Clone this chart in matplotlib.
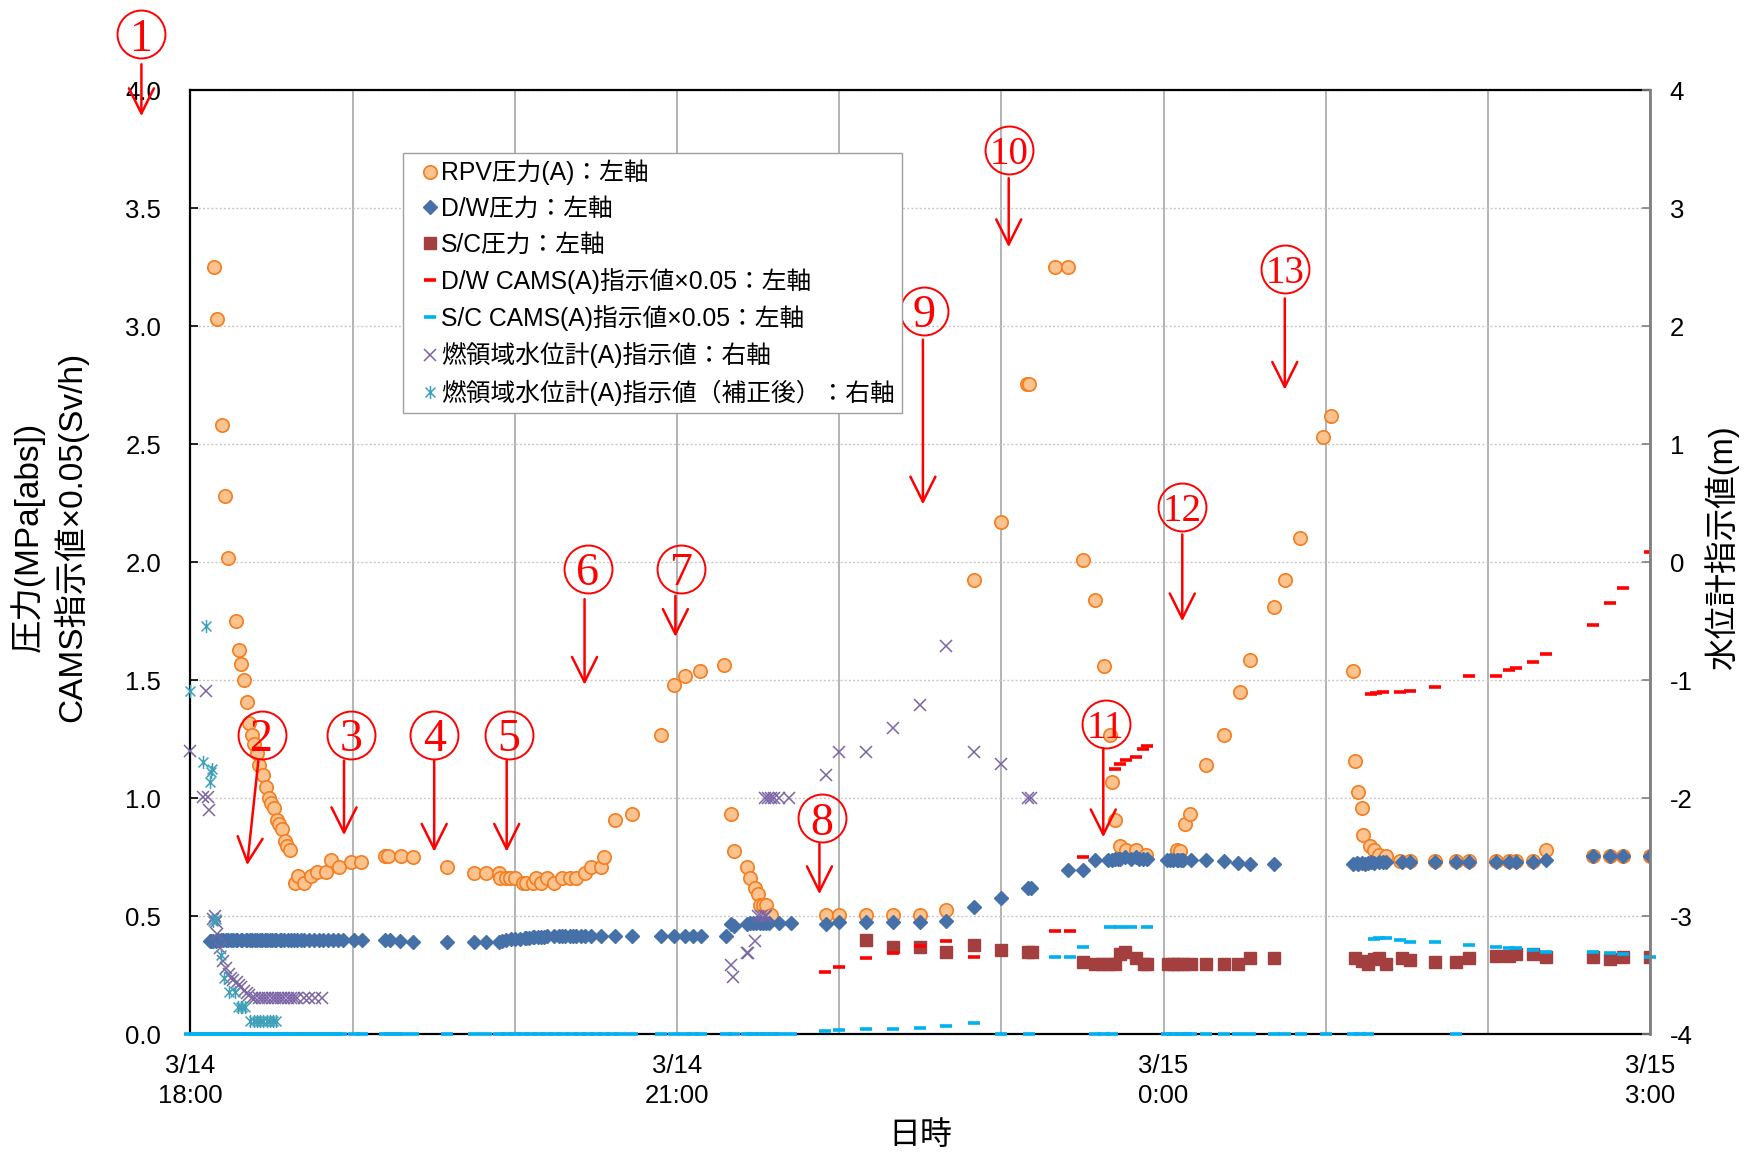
import numpy as np
import matplotlib
matplotlib.use("Agg")
import matplotlib.pyplot as plt
from matplotlib.path import Path

plt.rcParams['font.family'] = ['Liberation Sans', 'Noto Sans CJK JP', 'DejaVu Sans']

# time axis: hours after 3/14 18:00
x_ticklabels = ["3/14\n18:00", "", "", "3/14\n21:00", "", "", "3/15\n0:00", "", "", "3/15\n3:00"]

# RPV pressure (A), left axis [MPa abs]
rpv_t = [0.146, 0.165, 0.196, 0.214, 0.231, 0.28, 0.297, 0.313, 0.33, 0.348, 0.363, 0.379, 0.394, 0.41,
         0.423, 0.45, 0.466, 0.482, 0.497, 0.513, 0.532, 0.548, 0.565, 0.581, 0.598, 0.614, 0.647, 0.664,
         0.699, 0.746, 0.781, 0.833, 0.868, 0.918, 0.99, 1.05, 1.20, 1.22, 1.30, 1.37, 1.58, 1.75, 1.82,
         1.90, 1.91, 1.945, 1.97, 2.0, 2.05, 2.07, 2.11, 2.13, 2.16, 2.20, 2.24, 2.29, 2.34, 2.38, 2.43,
         2.47, 2.53, 2.55, 2.62, 2.72, 2.90, 2.98, 3.05, 3.14, 3.29, 3.33, 3.35, 3.43, 3.45, 3.48, 3.50,
         3.51, 3.53, 3.55, 3.58, 3.92, 4.0, 4.165, 4.33, 4.5, 4.66, 4.83, 5.0, 5.16, 5.17, 5.33, 5.41,
         5.50, 5.58, 5.63, 5.67, 5.68, 5.70, 5.73, 5.77, 5.83, 5.89, 6.08, 6.10, 6.13, 6.16, 6.26, 6.37,
         6.47, 6.53, 6.68, 6.75, 6.84, 6.98, 7.03, 7.17, 7.18, 7.20, 7.22, 7.23, 7.27, 7.30, 7.33, 7.37,
         7.46, 7.52, 7.67, 7.80, 7.88, 8.05, 8.13, 8.17, 8.28, 8.36, 8.65, 8.75, 8.83, 9.0]
rpv_p = [3.25, 3.03, 2.58, 2.28, 2.02, 1.75, 1.63, 1.57, 1.50, 1.41, 1.32, 1.27, 1.23, 1.19,
         1.14, 1.10, 1.05, 1.00, 0.98, 0.96, 0.91, 0.89, 0.87, 0.82, 0.80, 0.78, 0.64, 0.67,
         0.64, 0.67, 0.69, 0.69, 0.74, 0.71, 0.73, 0.73, 0.755, 0.755, 0.755, 0.75, 0.71, 0.685, 0.685,
         0.685, 0.663, 0.663, 0.663, 0.663, 0.64, 0.64, 0.64, 0.663, 0.64, 0.663, 0.64, 0.663, 0.663, 0.663, 0.685,
         0.71, 0.71, 0.753, 0.91, 0.935, 1.27, 1.48, 1.52, 1.54, 1.565, 0.935, 0.777, 0.71, 0.663, 0.62, 0.595,
         0.55, 0.55, 0.55, 0.505, 0.505, 0.505, 0.507, 0.507, 0.507, 0.528, 1.925, 2.17, 2.756, 2.756, 3.25, 3.25,
         2.01, 1.84, 1.56, 1.27, 1.07, 0.91, 0.80, 0.78, 0.78, 0.76, 0.78, 0.777, 0.89, 0.935, 1.14, 1.27,
         1.45, 1.585, 1.81, 1.925, 2.105, 2.53, 2.62, 1.54, 1.16, 1.025, 0.957, 0.845, 0.80, 0.78, 0.76, 0.756,
         0.734, 0.734, 0.734, 0.734, 0.734, 0.734, 0.734, 0.734, 0.734, 0.78, 0.756, 0.756, 0.756, 0.756]

# D/W pressure, left axis
dw_t = [0.12, 0.13, 0.14, 0.16, 0.17, 0.19, 0.20, 0.22, 0.23, 0.25, 0.26, 0.28, 0.29, 0.31, 0.32, 0.34,
        0.35, 0.37, 0.38, 0.40, 0.41, 0.43, 0.44, 0.46, 0.47, 0.49, 0.50, 0.52, 0.53, 0.55, 0.56, 0.58,
        0.60, 0.62, 0.64, 0.66, 0.68, 0.70, 0.73, 0.76, 0.79, 0.82, 0.85, 0.88, 0.91, 0.94,
        1.01, 1.06, 1.20, 1.23, 1.29, 1.37, 1.58, 1.75, 1.82, 1.90, 1.92, 1.945, 1.975, 2.0, 2.03, 2.06,
        2.07, 2.09, 2.11, 2.12, 2.14, 2.16, 2.18, 2.20, 2.24, 2.27, 2.29, 2.31, 2.34, 2.36, 2.38, 2.41,
        2.43, 2.47, 2.53, 2.62, 2.72, 2.90, 2.98, 3.05, 3.10, 3.15, 3.30, 3.33, 3.35, 3.43, 3.45, 3.47,
        3.49, 3.51, 3.53, 3.55, 3.57, 3.63, 3.70, 3.92, 4.0, 4.165, 4.33, 4.5, 4.66, 4.83, 5.0, 5.165,
        5.18, 5.41, 5.50, 5.58, 5.66, 5.68, 5.70, 5.72, 5.73, 5.76, 5.80, 5.83, 5.85, 5.87, 5.90, 6.02,
        6.04, 6.06, 6.08, 6.09, 6.11, 6.12, 6.17, 6.26, 6.37, 6.46, 6.53, 6.68, 7.17, 7.19, 7.20, 7.22,
        7.24, 7.26, 7.28, 7.30, 7.33, 7.35, 7.37, 7.47, 7.52, 7.67, 7.80, 7.88, 8.05, 8.13, 8.17, 8.28,
        8.36, 8.65, 8.75, 8.83, 9.0]
dw_p = [0.395, 0.395, 0.395, 0.395, 0.40, 0.40, 0.40, 0.40, 0.40, 0.40, 0.40, 0.40, 0.40, 0.40, 0.40, 0.40,
        0.40, 0.40, 0.40, 0.40, 0.40, 0.40, 0.40, 0.40, 0.40, 0.40, 0.40, 0.40, 0.40, 0.40, 0.40, 0.40,
        0.40, 0.40, 0.40, 0.40, 0.40, 0.40, 0.40, 0.40, 0.40, 0.40, 0.40, 0.40, 0.40, 0.40,
        0.40, 0.40, 0.40, 0.40, 0.395, 0.393, 0.39, 0.392, 0.392, 0.39, 0.396, 0.40, 0.403, 0.403, 0.405, 0.408,
        0.41, 0.41, 0.413, 0.413, 0.413, 0.414, 0.414, 0.415, 0.415, 0.416, 0.416, 0.416, 0.416, 0.416, 0.416, 0.416,
        0.416, 0.416, 0.418, 0.418, 0.418, 0.416, 0.416, 0.416, 0.416, 0.416, 0.416, 0.467, 0.46, 0.467, 0.47, 0.47,
        0.47, 0.47, 0.47, 0.47, 0.47, 0.474, 0.474, 0.469, 0.476, 0.476, 0.476, 0.476, 0.48, 0.54, 0.578, 0.62,
        0.62, 0.697, 0.697, 0.74, 0.74, 0.74, 0.745, 0.745, 0.745, 0.75, 0.745, 0.75, 0.745, 0.745, 0.745, 0.74,
        0.74, 0.74, 0.74, 0.74, 0.74, 0.74, 0.74, 0.74, 0.734, 0.727, 0.723, 0.72, 0.723, 0.725, 0.723, 0.728,
        0.72, 0.728, 0.73, 0.728, 0.73, 0.73, 0.73, 0.73, 0.73, 0.73, 0.73, 0.73, 0.73, 0.73, 0.73, 0.73,
        0.74, 0.756, 0.756, 0.756, 0.756]

# S/C pressure, left axis
sc_t = [4.165, 4.33, 4.5, 4.66, 4.83, 5.0, 5.165, 5.19, 5.50, 5.58, 5.62, 5.66, 5.70, 5.73, 5.76, 5.83,
        5.88, 5.90, 6.03, 6.06, 6.09, 6.12, 6.17, 6.26, 6.37, 6.46, 6.53, 6.68, 7.18, 7.22, 7.26, 7.30,
        7.33, 7.37, 7.47, 7.52, 7.67, 7.80, 7.88, 8.05, 8.13, 8.17, 8.28, 8.36, 8.65, 8.75, 8.83, 9.0]
sc_p = [0.398, 0.37, 0.37, 0.35, 0.377, 0.356, 0.35, 0.35, 0.307, 0.297, 0.297, 0.297, 0.297, 0.342, 0.348, 0.325,
        0.297, 0.297, 0.297, 0.297, 0.297, 0.297, 0.297, 0.297, 0.297, 0.297, 0.325, 0.325, 0.325, 0.31, 0.297, 0.318,
        0.325, 0.30, 0.325, 0.315, 0.305, 0.305, 0.325, 0.333, 0.333, 0.339, 0.339, 0.328, 0.328, 0.318, 0.328, 0.328]

# D/W CAMS(A) x0.05, left axis
dwcams_t = [3.91, 4.0, 4.165, 4.33, 4.5, 4.66, 4.83, 5.33, 5.42, 5.50, 5.70, 5.73, 5.77, 5.83, 5.87, 5.90,
            7.28, 7.31, 7.35, 7.46, 7.52, 7.67, 7.88, 8.05, 8.13, 8.17, 8.28, 8.36, 8.65, 8.75, 8.83, 9.0]
dwcams_v = [0.266, 0.287, 0.323, 0.345, 0.373, 0.394, 0.326, 0.44, 0.44, 0.75, 1.124, 1.144, 1.164, 1.175, 1.21, 1.223,
            1.443, 1.447, 1.45, 1.45, 1.455, 1.47, 1.52, 1.52, 1.544, 1.554, 1.577, 1.61, 1.733, 1.826, 1.89, 2.045]

# S/C CAMS(A) x0.05, left axis
sccams_t = [0.0, 0.03, 0.06, 0.09, 0.12, 0.15, 0.18, 0.21, 0.24, 0.27, 0.30, 0.33, 0.36, 0.39, 0.42, 0.45,
            0.48, 0.51, 0.54, 0.57, 0.60, 0.63, 0.66, 0.69, 0.72, 0.75, 0.78, 0.81, 0.84, 0.87, 0.90, 0.93,
            1.01, 1.06, 1.20, 1.23, 1.27, 1.30, 1.37, 1.58, 1.75, 1.82, 1.90, 1.95, 2.0, 2.05, 2.10, 2.15,
            2.20, 2.25, 2.30, 2.35, 2.40, 2.45, 2.50, 2.55, 2.60, 2.65, 2.72, 2.90, 2.98, 3.05, 3.10, 3.15,
            3.30, 3.35, 3.43, 3.47, 3.51, 3.55, 3.59, 3.63, 3.70,
            3.91, 4.0, 4.165, 4.33, 4.5, 4.66, 4.83, 5.0, 5.17, 5.33, 5.42, 5.50, 5.58, 5.63, 5.67, 5.68,
            5.73, 5.80, 5.90, 6.02, 6.06, 6.10, 6.14, 6.17, 6.26, 6.37, 6.46, 6.53, 6.68, 6.75, 6.85, 7.0,
            7.17, 7.21, 7.26, 7.30, 7.33, 7.37, 7.46, 7.52, 7.67, 7.80, 7.88, 8.05, 8.13, 8.17, 8.28, 8.36,
            8.65, 8.75, 8.83, 9.0]
sccams_v = [0.0] * 73 + \
           [0.016, 0.018, 0.024, 0.024, 0.028, 0.035, 0.048, 0.0, 0.0, 0.33, 0.33, 0.369, 0.0, 0.0, 0.455, 0.0,
            0.455, 0.453, 0.455, 0.0, 0.0, 0.0, 0.0, 0.0, 0.0, 0.0, 0.0, 0.0, 0.0, 0.0, 0.0, 0.0,
            0.0, 0.0, 0.0, 0.405, 0.407, 0.407, 0.40, 0.392, 0.392, 0.0, 0.377, 0.37, 0.367, 0.367, 0.358, 0.35,
            0.35, 0.343, 0.34, 0.33]

# fuel-range water level (A), right axis [m]
wl_t = [0.0, 0.08, 0.097, 0.11, 0.115, 0.14, 0.15, 0.155, 0.165, 0.18, 0.20, 0.22, 0.235, 0.25, 0.265, 0.285,
        0.30, 0.315, 0.33, 0.346, 0.36, 0.38, 0.40, 0.42, 0.44, 0.46, 0.48, 0.50, 0.52, 0.54, 0.56, 0.58,
        0.60, 0.62, 0.64, 0.66, 0.70, 0.73, 0.77, 0.81,
        3.33, 3.345, 3.43, 3.44, 3.48, 3.50, 3.52, 3.54, 3.55, 3.54, 3.56, 3.58, 3.60, 3.63, 3.69,
        3.92, 4.0, 4.165, 4.33, 4.5, 4.66, 4.83, 5.0, 5.165, 5.18]
wl_m = [-1.60, -1.99, -1.09, -1.99, -2.10, -3.02, -3.0, -3.05, -3.15, -3.27, -3.38, -3.44, -3.49, -3.52, -3.54, -3.56,
        -3.58, -3.60, -3.63, -3.65, -3.67, -3.69, -3.69, -3.69, -3.69, -3.69, -3.69, -3.69, -3.69, -3.69, -3.69, -3.69,
        -3.69, -3.69, -3.69, -3.69, -3.69, -3.69, -3.69, -3.69,
        -3.41, -3.51, -3.31, -3.31, -3.21, -3.0, -3.0, -3.0, -3.0, -2.0, -2.0, -2.0, -2.0, -2.0, -2.0,
        -1.80, -1.61, -1.61, -1.40, -1.21, -0.71, -1.61, -1.71, -2.0, -2.0]

# fuel-range water level (A), corrected, right axis [m]
wlc_t = [0.0, 0.078, 0.097, 0.12, 0.13, 0.136, 0.14, 0.155, 0.19, 0.21, 0.24, 0.275, 0.295, 0.31, 0.32, 0.336,
         0.367, 0.39, 0.41, 0.43, 0.45, 0.47, 0.49, 0.51, 0.53]
wlc_m = [-1.09, -1.69, -0.54, -1.86, -1.78, -1.75, -3.04, -3.02, -3.33, -3.52, -3.64, -3.64, -3.77, -3.77, -3.77, -3.77,
         -3.885, -3.885, -3.885, -3.885, -3.885, -3.885, -3.885, -3.885, -3.885]

# event markers (circled numbers)
event_nums = ['1', '2', '3', '4', '5', '6', '7', '8', '9', '10', '11', '12', '13']
event_pos = [(-0.302, 4.236), (0.439, 1.269), (0.988, 1.269), (1.503, 1.269), (1.963, 1.269),
             (2.45, 1.972), (3.027, 1.972), (3.892, 0.915), (4.523, 3.066), (5.045, 3.745),
             (5.642, 1.316), (6.115, 2.236), (6.747, 3.241)]
event_arrow = [((-0.302, 4.11), (-0.302, 3.89)), ((0.419, 1.16), (0.35, 0.717)),
               ((0.947, 1.16), (0.947, 0.844)), ((1.503, 1.16), (1.503, 0.774)),
               ((1.95, 1.16), (1.95, 0.774)), ((2.43, 1.844), (2.43, 1.481)),
               ((2.99, 1.858), (2.99, 1.684)), ((3.878, 0.807), (3.878, 0.594)),
               ((4.516, 2.943), (4.516, 2.245)), ((5.045, 3.627), (5.045, 3.335)),
               ((5.628, 1.212), (5.628, 0.835)), ((6.115, 2.118), (6.115, 1.75)),
               ((6.747, 3.118), (6.747, 2.731))]

asterisk = Path([(0, -1), (0, 1), (-0.75, -0.75), (0.75, 0.75), (-0.75, 0.75), (0.75, -0.75)],
                [Path.MOVETO, Path.LINETO, Path.MOVETO, Path.LINETO, Path.MOVETO, Path.LINETO])

fig = plt.figure(figsize=(17.46, 11.54), dpi=100)
ax = fig.add_axes([0.10905, 0.10364, 0.8361, 0.8182])
ax2 = ax.twinx()

ax.plot(rpv_t, rpv_p, ls='none', marker='o', ms=9.6, mfc='#FDC38F', mec='#F57C1F', mew=1.2,
        label='RPV圧力(A)：左軸', zorder=3)
ax.plot(dw_t, dw_p, ls='none', marker='D', ms=6.8, mfc='#4671A8', mec='#4671A8',
        label='D/W圧力：左軸', zorder=4)
ax.plot(sc_t, sc_p, ls='none', marker='s', ms=8.8, mfc='#A3403F', mec='#A3403F',
        label='S/C圧力：左軸', zorder=5)
ax.plot(dwcams_t, dwcams_v, ls='none', marker='_', ms=9, mew=2.6, color='#FF0000',
        label='D/W CAMS(A)指示値×0.05：左軸', zorder=6)
ax.plot(sccams_t, sccams_v, ls='none', marker='_', ms=9, mew=2.6, color='#00B0F0',
        label='S/C CAMS(A)指示値×0.05：左軸', zorder=7, clip_on=False)
ax2.plot(wl_t, wl_m, ls='none', marker='x', ms=8.5, mew=1.1, color='#7A64A5',
         label='燃領域水位計(A)指示値：右軸', clip_on=False)
ax2.plot(wlc_t, wlc_m, ls='none', marker=asterisk, ms=9.5, mew=1.1, color='#3FA1B9',
         label='燃領域水位計(A)指示値（補正後）：右軸', clip_on=False)

ax.set_xlim(0, 9)
ax.set_ylim(0, 4)
ax2.set_ylim(-4, 4)

ax.set_xticks(range(10))
ax.set_xticklabels(x_ticklabels, fontsize=18.5)
for lbl in ax.get_xticklabels():
    lbl.set_linespacing(1.3)
ax.set_yticks(np.arange(0, 4.01, 0.5))
ax.set_yticklabels(['%.1f' % v for v in np.arange(0, 4.01, 0.5)], fontsize=18.5)
ax2.set_yticks(range(-4, 5))
ax2.set_yticklabels([str(v) for v in range(-4, 5)], fontsize=18.5)

ax.tick_params(axis='x', length=0, pad=14)
ax.tick_params(axis='y', direction='in', length=6, width=1.2, pad=21)
ax2.tick_params(axis='y', direction='in', length=6, width=1.2, pad=14, color='#7f7f7f')

ax.grid(axis='x', color='#b3b3b3', lw=1.4, ls='-')
ax.grid(axis='y', color='#c8c8c8', lw=1.0, ls=(0, (1.5, 1.5)))
ax.set_axisbelow(True)

for s in ['left', 'bottom', 'top']:
    ax.spines[s].set_color('black')
    ax.spines[s].set_linewidth(1.6)
ax.spines['right'].set_visible(False)
for s in ['left', 'bottom', 'top']:
    ax2.spines[s].set_visible(False)
ax2.spines['right'].set_color('#808080')
ax2.spines['right'].set_linewidth(2)

ax.set_ylabel('圧力(MPa[abs])\nCAMS指示値×0.05(Sv/h)', fontsize=24, linespacing=1.3)
ax.yaxis.set_label_coords(-0.070, 0.527)
ax2.set_ylabel('水位計指示値(m)', fontsize=23.5)
ax2.yaxis.set_label_coords(1.037, 0.516)
ax.set_xlabel('日時', fontsize=23)
ax.xaxis.set_label_coords(0.5, -0.092)

for num, (px, py), (a0, a1) in zip(event_nums, event_pos, event_arrow):
    ax.plot([px], [py], ls='none', marker='o', ms=34.5, mfc='none', mec='red', mew=1.4,
            clip_on=False, zorder=10)
    ax.text(px, py, num, color='red', fontsize=33 if len(num) == 1 else 28,
            ha='center', va='center_baseline', family=['Liberation Serif'], clip_on=False, zorder=10)
    ax.annotate('', xy=a1, xytext=a0, annotation_clip=False, zorder=10,
                arrowprops=dict(arrowstyle='->, head_length=0.9, head_width=0.45', color='red',
                                lw=1.8, shrinkA=0, shrinkB=0, mutation_scale=20))

h1, l1 = ax.get_legend_handles_labels()
h2, l2 = ax2.get_legend_handles_labels()
leg = ax2.legend(h1 + h2, l1 + l2, loc='upper left', bbox_to_anchor=(0.1456, 0.934), fontsize=17.8,
                 frameon=True, fancybox=False, framealpha=1, edgecolor='#a0a0a0',
                 handlelength=1.6, handletextpad=-0.35, labelspacing=0.46, borderpad=0.3,
                 borderaxespad=0)
leg.get_frame().set_linewidth(1.0)
leg.set_zorder(20)

fig.savefig('out.png', dpi=100)
